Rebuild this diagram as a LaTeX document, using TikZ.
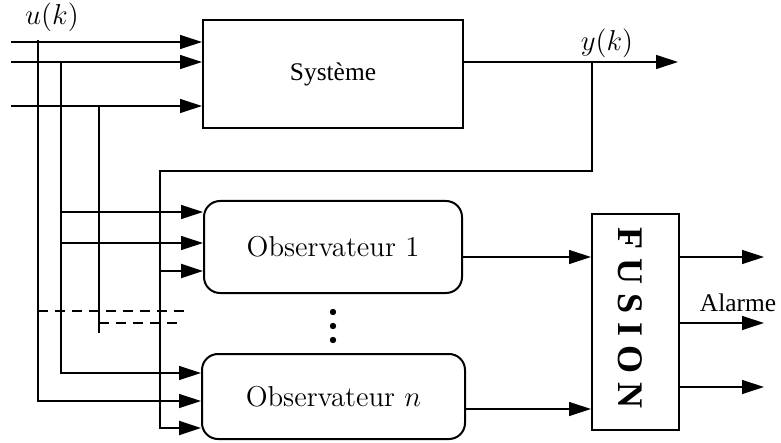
\documentclass[tikz,border=0pt]{standalone}
\usepackage{fontspec}
\newfontfamily\tnr{Liberation Serif}
\usetikzlibrary{arrows.meta}
\begin{document}
\begin{tikzpicture}[x=0.5pt,y=-0.5pt,
  thin line/.style={line width=0.6pt},
  thick line/.style={line width=1.1pt},
  arr/.style={-{Triangle[length=11pt,width=7pt]}},
  box/.style={draw,line width=1pt,inner sep=0pt},
  obsbox/.style={box,rounded corners=8pt,font=\fontsize{14.35}{17}\selectfont},
  lbl/.style={inner sep=0pt,font=\fontsize{14.35}{17}\selectfont},
  tlbl/.style={inner sep=0pt,font=\tnr\fontsize{12.7}{15}\selectfont}]
\useasboundingbox (0,0) rectangle (781,443);
% nodes
\node[box,minimum width=130pt,minimum height=54pt,tlbl] (sys) at (333,74) {Système};
\node[obsbox,minimum width=129pt,minimum height=46pt] (obs1) at (333,247) {Observateur 1};
\node[obsbox,minimum width=131.5pt,minimum height=42.5pt] (obsn) at (333.5,396.5) {Observateur $n$};
\node[box,minimum width=43.5pt,minimum height=108pt] (fus) at (635.5,322) {};
\node[inner sep=0pt,rotate=-90,font=\tnr\bfseries\fontsize{18}{20}\selectfont] (fustxt) at (630,318) {F U S I O N};
\node[lbl] (u) at (52,17) {$u(k)$};
\node[lbl] (y) at (607,43) {$y(k)$};
\node[tlbl] (alarme) at (738,303) {Alarme};
\foreach \yy [count=\i] in {312,326,340} \fill (333,\yy) circle (1.6pt) coordinate (dot\i);
% coordinates
\coordinate (in1) at (11,42);
\coordinate (in2) at (11,62);
\coordinate (in3) at (11,106);
\coordinate (vA) at (38,40);
\coordinate (vB) at (61,62);
\coordinate (vC) at (99,106);
\coordinate (bA) at (38,401);
\coordinate (bB) at (61,373);
\coordinate (bB1) at (61,212);
\coordinate (bB2) at (61,243);
\coordinate (bC) at (99,333);
\coordinate (yo) at (463,62);
\coordinate (yend) at (678,62);
\coordinate (fb0) at (592,62);
\coordinate (fb1) at (592,171);
\coordinate (fb2) at (160,171);
\coordinate (fb3) at (160,428);
\coordinate (fbm) at (160,271);
\coordinate (o1) at (462,257);
\coordinate (on) at (465,409);
\coordinate (f1) at (764,257);
\coordinate (f2) at (764,323);
\coordinate (f3) at (764,387);
\coordinate (d1s) at (38,311);
\coordinate (d1e) at (188,311);
\coordinate (d2s) at (99,323);
\coordinate (d2e) at (183,323);
% inputs to system
\draw[thin line,arr] (in1) -- (in1 -| sys.west);
\draw[thin line,arr] (in2) -- (in2 -| sys.west);
\draw[thin line,arr] (in3) -- (in3 -| sys.west);
% verticals
\draw[thin line,arr] (vA) -- (bA) -- (bA -| obsn.west);
\draw[thin line,arr] (vB) -- (bB) -- (bB -| obsn.west);
\draw[thin line,arr] (bB1) -- (bB1 -| obs1.west);
\draw[thin line,arr] (bB2) -- (bB2 -| obs1.west);
\draw[thin line] (vC) -- (bC);
\draw[thin line,dashed,dash pattern=on 5pt off 3.5pt] (d1s) -- (d1e);
\draw[thin line,dashed,dash pattern=on 5pt off 3.5pt] (d2s) -- (d2e);
% output and feedback
\draw[thin line,arr] (sys.east |- yo) -- (yend);
\draw[thick line,arr] (fb0) -- (fb1) -- (fb2) -- (fb3) -- (fb3 -| obsn.west);
\draw[thick line,arr] (fbm) -- (fbm -| obs1.west);
% observers to fusion
\draw[thin line,arr] (obs1.east |- o1) -- (o1 -| fus.west);
\draw[thin line,arr] (obsn.east |- on) -- (on -| fus.west);
% fusion outputs
\draw[thin line,arr] (fus.east |- f1) -- (f1);
\draw[thin line,arr] (fus.east |- f2) -- (f2);
\draw[thin line,arr] (fus.east |- f3) -- (f3);
\end{tikzpicture}
\end{document}
